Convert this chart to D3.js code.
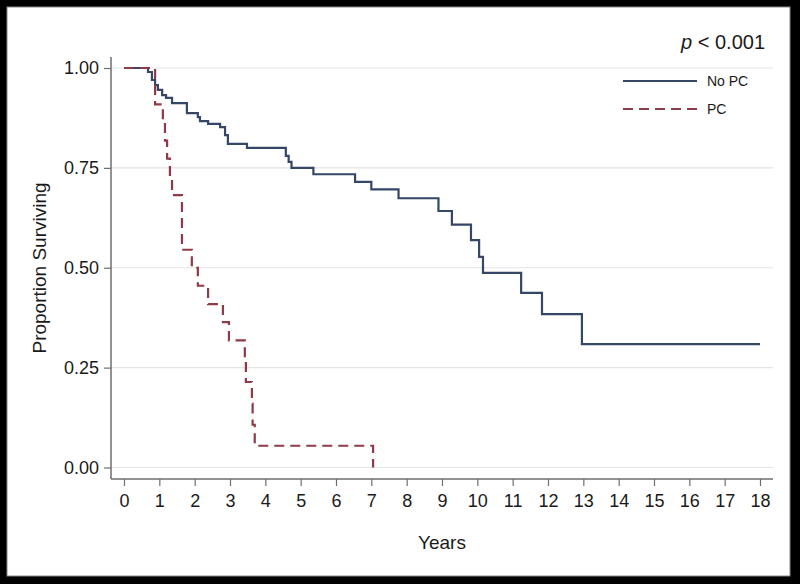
<!DOCTYPE html>
<html>
<head>
<meta charset="utf-8">
<script src="https://cdn.jsdelivr.net/npm/d3@7"></script>
<style>
  html, body { margin: 0; padding: 0; background: #000; }
  svg { display: block; }
  text { font-family: Arial, "Liberation Sans", Helvetica, sans-serif; fill: #1a1a1a; }
</style>
</head>
<body>
<svg id="chart" width="800" height="584"></svg>
<script>
// ---- data ----
const noPcTimes  = [0, 0.68, 0.79, 0.88, 0.96, 1.08, 1.19, 1.36, 1.78, 2.09, 2.15, 2.38, 2.72, 2.86, 2.94, 3.48, 4.58, 4.66, 4.74, 5.36, 6.54, 7.0, 7.77, 8.9, 9.28, 9.82, 10.05, 10.16, 11.24, 11.83, 12.96];
const noPcSurv   = [1.0, 0.99, 0.97, 0.957, 0.945, 0.932, 0.925, 0.912, 0.887, 0.877, 0.867, 0.86, 0.852, 0.832, 0.81, 0.80, 0.78, 0.765, 0.75, 0.734, 0.715, 0.696, 0.674, 0.642, 0.608, 0.569, 0.527, 0.487, 0.437, 0.384, 0.309];
const noPcEnd    = 18;
const pcTimes    = [0, 0.88, 1.10, 1.16, 1.22, 1.30, 1.36, 1.64, 1.92, 2.09, 2.38, 2.80, 2.97, 3.42, 3.45, 3.62, 3.64, 3.70, 7.05];
const pcSurv     = [1.0, 0.909, 0.864, 0.818, 0.773, 0.727, 0.682, 0.545, 0.50, 0.455, 0.409, 0.364, 0.318, 0.273, 0.214, 0.16, 0.107, 0.0545, 0.0];
const pcEnd      = 7.05;
const xTicks     = [0,1,2,3,4,5,6,7,8,9,10,11,12,13,14,15,16,17,18];
const yTicks     = [0, 0.25, 0.5, 0.75, 1.0];
const seriesNames = ["No PC", "PC"];

// ---- layout ----
const svg = d3.select("#chart");
svg.append("rect").attr("x", 0).attr("y", 0).attr("width", 800).attr("height", 584).attr("fill", "#000");
svg.append("rect").attr("x", 7).attr("y", 7).attr("width", 783).attr("height", 569)
  .attr("fill", "#fff").attr("stroke", "#888").attr("stroke-width", 1);

const x = d3.scaleLinear().domain([0, 18]).range([124, 760]);
const y = d3.scaleLinear().domain([0, 1]).range([467.5, 68]);

const axisLeftX = 111, axisBottomY = 479, plotRight = 773, plotTop = 57;

// gridlines
svg.append("g").selectAll("line").data(yTicks).join("line")
  .attr("x1", axisLeftX).attr("x2", plotRight)
  .attr("y1", d => y(d)).attr("y2", d => y(d))
  .attr("stroke", "#e3e3e3").attr("stroke-width", 1.2);

// y axis
const yAxis = d3.axisLeft(y).tickValues(yTicks).tickFormat(d3.format(".2f")).tickSize(7).tickPadding(5);
const gy = svg.append("g").attr("transform", `translate(${axisLeftX},0)`).call(yAxis);
gy.select(".domain").remove();
gy.append("line").attr("x1", 0).attr("x2", 0).attr("y1", plotTop).attr("y2", axisBottomY)
  .attr("stroke", "#6e6e6e").attr("stroke-width", 1.5);
gy.selectAll(".tick line").attr("stroke", "#6e6e6e").attr("stroke-width", 1.2);
gy.selectAll(".tick text").attr("font-size", "18px").attr("fill", "#1a1a1a")
  .style("font-family", "Arial, 'Liberation Sans', sans-serif");

// x axis
const xAxis = d3.axisBottom(x).tickValues(xTicks).tickFormat(d3.format("d")).tickSize(7).tickPadding(8);
const gx = svg.append("g").attr("transform", `translate(0,${axisBottomY})`).call(xAxis);
gx.select(".domain").remove();
gx.append("line").attr("x1", axisLeftX).attr("x2", plotRight).attr("y1", 0).attr("y2", 0)
  .attr("stroke", "#6e6e6e").attr("stroke-width", 1.5);
gx.selectAll(".tick line").attr("stroke", "#6e6e6e").attr("stroke-width", 1.2);
gx.selectAll(".tick text").attr("font-size", "18px").attr("fill", "#1a1a1a")
  .style("font-family", "Arial, 'Liberation Sans', sans-serif");

// axis titles
svg.append("text").attr("x", 442).attr("y", 549).attr("text-anchor", "middle")
  .attr("font-size", "19px").text("Years");
svg.append("text").attr("transform", "translate(46,268) rotate(-90)").attr("text-anchor", "middle")
  .attr("font-size", "19px").text("Proportion Surviving");

// curves
const line = d3.line().x(d => x(d[0])).y(d => y(d[1])).curve(d3.curveStepAfter);
const noPcPts = noPcTimes.map((t, i) => [t, noPcSurv[i]]).concat([[noPcEnd, noPcSurv[noPcSurv.length - 1]]]);
const pcPts = pcTimes.map((t, i) => [t, pcSurv[i]]);
if (pcTimes[pcTimes.length - 1] !== pcEnd) pcPts.push([pcEnd, pcSurv[pcSurv.length - 1]]);

const colors = ["#354766", "#8e3a48"];

svg.append("path").datum(noPcPts).attr("d", line)
  .attr("fill", "none").attr("stroke", colors[0]).attr("stroke-width", 2.2)
  .attr("stroke-linejoin", "miter");
svg.append("path").datum(pcPts).attr("d", line)
  .attr("fill", "none").attr("stroke", colors[1]).attr("stroke-width", 2.2)
  .attr("stroke-dasharray", "10,6");

// legend
const legend = svg.append("g");
[81, 109].forEach((ly, i) => {
  legend.append("line").attr("x1", 623).attr("x2", 697).attr("y1", ly).attr("y2", ly)
    .attr("stroke", colors[i]).attr("stroke-width", 2.2)
    .attr("stroke-dasharray", i === 1 ? "10,6" : null);
  legend.append("text").attr("x", 707).attr("y", ly + 5).attr("font-size", "14px").text(seriesNames[i]);
});

// p-value
const pt = svg.append("text").attr("x", 765).attr("y", 49).attr("text-anchor", "end").attr("font-size", "20px");
pt.append("tspan").attr("font-style", "italic").text("p");
pt.append("tspan").text(" < 0.001");
</script>
</body>
</html>
